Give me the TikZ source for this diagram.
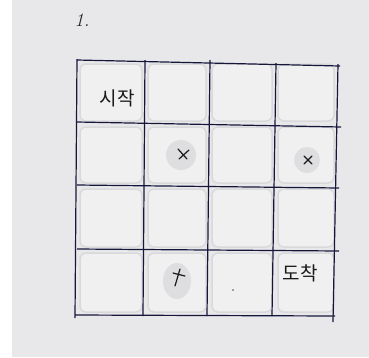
\documentclass[tikz,border=0pt]{standalone}
\usepackage{fontspec}
\newfontfamily\kor{Noto Sans CJK KR}
\definecolor{paper}{HTML}{E8E8EA}
\definecolor{tape}{HTML}{F0F0F1}
\definecolor{tapeedge}{HTML}{D9D9DB}
\definecolor{blob}{HTML}{DEDEE0}
\definecolor{ink}{HTML}{16163A}
\tikzset{
  gridline/.style={draw=ink, line width=1.2pt},
  tapecell/.style={fill=tape, draw=tapeedge, line width=1.5pt, rounded corners=6pt},
  wetspot/.style={fill=blob, draw=none},
  xmark/.style={draw=black!90, line width=1.2pt, line cap=round},
  hand/.style={font=\kor\fontsize{19}{19}\selectfont, text=black!90}
}
\begin{document}
\begin{tikzpicture}[x=1pt,y=-1pt]
\useasboundingbox (0,0) rectangle (369,357);
\fill[white] (0,0) rectangle (369,357);
\fill[paper] (12,0) rectangle (369,357);
% tape cells
\foreach \xa/\xb in {77/145,145/209,209/275,275/337}{
  \foreach \ya/\yb in {61/124,124/186,186/250,250/315}{
    \draw[tapecell] (\xa+3,\ya+3) rectangle (\xb-3,\yb-3);
  }
}
% wet spots
\fill[wetspot] (181,155) circle (15);
\fill[wetspot] (307,160) circle (13);
\fill[wetspot] (177,281) ellipse (14 and 18);
% grid lines
\draw[gridline] (77,59) -- (75,318);
\draw[gridline] (145,60) -- (143,316);
\draw[gridline] (210,60) -- (207,316);
\draw[gridline] (276,63) -- (272,316);
\draw[gridline] (338,64) -- (333,322);
\draw[gridline] (77,60) -- (340,66);
\draw[gridline] (77,122) -- (341,127);
\draw[gridline] (77,185) -- (339,188);
\draw[gridline] (77,249) -- (339,251);
\draw[gridline] (75,315) -- (335,316);
% x marks
\draw[xmark] (178,149) -- (187,159);
\draw[xmark] (179,159) -- (189,150);
\draw[xmark] (304,156) -- (312,164);
\draw[xmark] (304,164) -- (312,156);
\draw[xmark] (173,273) -- (185,276);
\draw[xmark] (180,269) -- (175,286);
\fill[black!70] (233,290) circle (0.9);
% texts
\node[hand] (start) at (117,98) {시작};
\node[hand] (goal) at (300,273) {도착};
\node[font=\fontsize{19}{19}\selectfont\itshape, text=black!85] (num) at (82,20) {1.};
\end{tikzpicture}
\end{document}
